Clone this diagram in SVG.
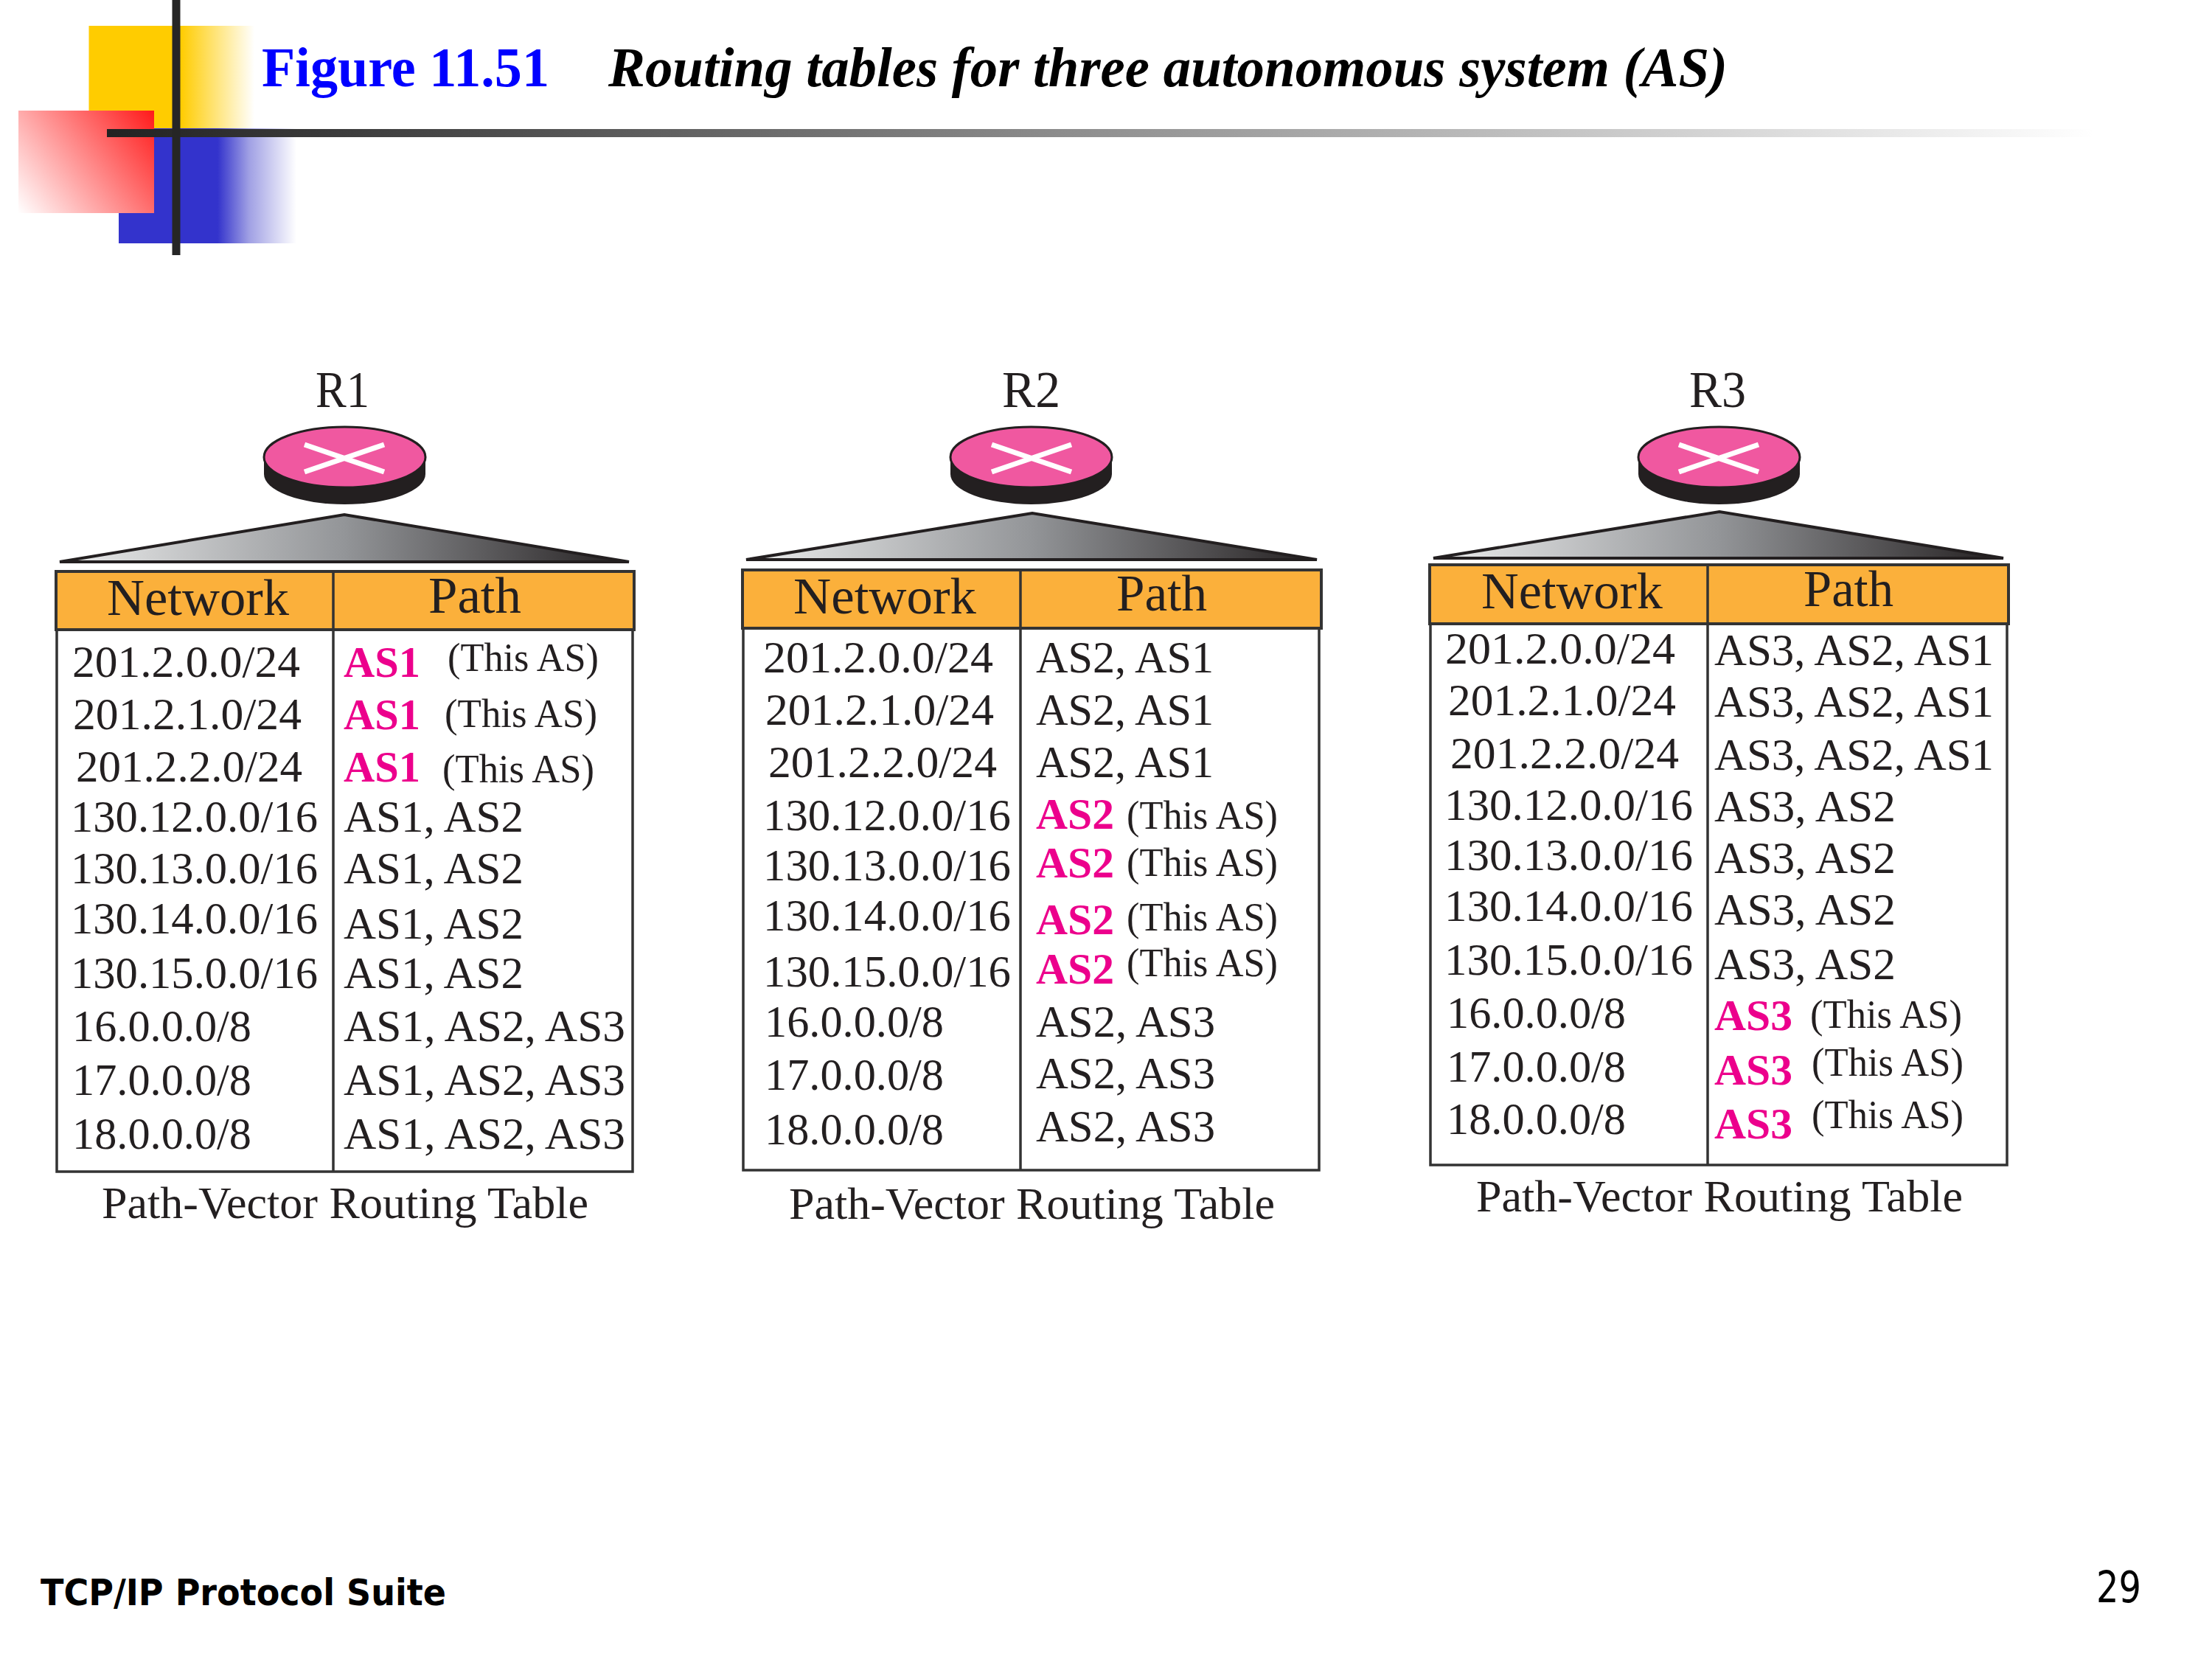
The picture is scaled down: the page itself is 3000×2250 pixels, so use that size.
<svg xmlns="http://www.w3.org/2000/svg" width="3000" height="2250" viewBox="0 0 3000 2250">
<style>
text{font-family:"Liberation Serif","Times New Roman",serif;fill:#231f20}
.t{font-size:62px}
.l{font-size:70px}
.h{font-size:70px}
.b{font-size:60px;font-weight:bold;fill:#ec008c}
.n{font-size:54px}
.hd{fill:#fbb03b;stroke:#333;stroke-width:4}
.bd{fill:#fff;stroke:#333;stroke-width:3.5}
.dv{stroke:#333;stroke-width:3.5;fill:none}
.top{fill:#f058a0;stroke:#231f20;stroke-width:3}
.side{fill:#231f20}
.x{stroke:#fff;stroke-width:7;fill:none}
.tri{fill:url(#gt);stroke:#231f20;stroke-width:4;stroke-linejoin:miter}
</style>
<defs>
<linearGradient id="gy" gradientUnits="userSpaceOnUse" x1="245" y1="0" x2="345" y2="0"><stop offset="0" stop-color="#ffcc00"/><stop offset="1" stop-color="#fff"/></linearGradient>
<linearGradient id="gb" gradientUnits="userSpaceOnUse" x1="295" y1="0" x2="402" y2="0"><stop offset="0" stop-color="#3333cc"/><stop offset="0.4" stop-color="#a0a0e4"/><stop offset="1" stop-color="#fff"/></linearGradient>
<linearGradient id="gr" gradientUnits="userSpaceOnUse" x1="209" y1="150" x2="25" y2="289"><stop offset="0" stop-color="#ff1a1a"/><stop offset="1" stop-color="#fff"/></linearGradient>
<linearGradient id="gl" gradientUnits="userSpaceOnUse" x1="145" y1="0" x2="2840" y2="0"><stop offset="0" stop-color="#222"/><stop offset="1" stop-color="#fff"/></linearGradient>
<linearGradient id="gt" x1="0" y1="0" x2="1" y2="0"><stop offset="0" stop-color="#eceded"/><stop offset="0.5" stop-color="#939598"/><stop offset="1" stop-color="#231f20"/></linearGradient>
</defs>
<rect width="3000" height="2250" fill="#fff"/>
<g id="decor">
<rect x="120.500" y="35" width="225" height="140" fill="url(#gy)"/>
<rect x="161" y="174" width="241" height="156" fill="url(#gb)"/>
<rect x="25" y="150" width="184" height="139" fill="url(#gr)"/>
<rect x="145" y="175" width="2695" height="11" fill="url(#gl)"/>
<rect x="233.500" y="0" width="11" height="346" fill="#262626"/>
</g>
<g id="title">
<text x="355" y="117" font-size="76" font-weight="bold" style="fill:#0000ff" textLength="390" lengthAdjust="spacingAndGlyphs">Figure 11.51</text>
<text x="825" y="117" font-size="76" font-weight="bold" font-style="italic" style="fill:#000" textLength="1518" lengthAdjust="spacingAndGlyphs">Routing tables for three autonomous system (AS)</text>
</g>
<g id="connectors">
<path class="tri" d="M81 762 L467 698 L853 762 Z"/>
<path class="tri" d="M1012 759 L1400 696 L1786 759 Z"/>
<path class="tri" d="M1944 757 L2332 694 L2717 757 Z"/>
</g>
<g id="R1">
<text class="l" x="428" y="552" textLength="73" lengthAdjust="spacingAndGlyphs">R1</text>
<path class="side" d="M358 620 V643 A109.500 41 0 0 0 577 643 V620 Z"/>
<ellipse class="top" cx="467.500" cy="620" rx="109.500" ry="41"/>
<path class="x" d="M413 603 L521 640 M413 640 L521 603"/>
</g>
<g id="table1">
<rect class="bd" x="77" y="854" width="781" height="735"/>
<rect class="hd" x="76" y="775" width="784" height="79"/>
<path class="dv" d="M452 775 V1589"/>
<text class="h" x="145" y="834" textLength="247" lengthAdjust="spacingAndGlyphs">Network</text>
<text class="h" x="581" y="831" textLength="126" lengthAdjust="spacingAndGlyphs">Path</text>
<text class="t" x="98" y="918" textLength="309" lengthAdjust="spacingAndGlyphs">201.2.0.0/24</text>
<text class="t" x="99" y="989" textLength="310" lengthAdjust="spacingAndGlyphs">201.2.1.0/24</text>
<text class="t" x="103" y="1060" textLength="307" lengthAdjust="spacingAndGlyphs">201.2.2.0/24</text>
<text class="t" x="96" y="1128" textLength="335" lengthAdjust="spacingAndGlyphs">130.12.0.0/16</text>
<text class="t" x="96" y="1198" textLength="335" lengthAdjust="spacingAndGlyphs">130.13.0.0/16</text>
<text class="t" x="96" y="1266" textLength="335" lengthAdjust="spacingAndGlyphs">130.14.0.0/16</text>
<text class="t" x="96" y="1340" textLength="335" lengthAdjust="spacingAndGlyphs">130.15.0.0/16</text>
<text class="t" x="98" y="1412" textLength="243" lengthAdjust="spacingAndGlyphs">16.0.0.0/8</text>
<text class="t" x="98" y="1485" textLength="243" lengthAdjust="spacingAndGlyphs">17.0.0.0/8</text>
<text class="t" x="98" y="1558" textLength="243" lengthAdjust="spacingAndGlyphs">18.0.0.0/8</text>
<text class="b" x="466" y="918" textLength="104" lengthAdjust="spacingAndGlyphs">AS1</text>
<text class="b" x="466" y="989" textLength="104" lengthAdjust="spacingAndGlyphs">AS1</text>
<text class="b" x="466" y="1060" textLength="104" lengthAdjust="spacingAndGlyphs">AS1</text>
<text class="n" x="607" y="910" textLength="205" lengthAdjust="spacingAndGlyphs">(This AS)</text>
<text class="n" x="603" y="986" textLength="207" lengthAdjust="spacingAndGlyphs">(This AS)</text>
<text class="n" x="600" y="1061" textLength="206" lengthAdjust="spacingAndGlyphs">(This AS)</text>
<text class="t" x="466" y="1128" textLength="244" lengthAdjust="spacingAndGlyphs">AS1, AS2</text>
<text class="t" x="466" y="1198" textLength="244" lengthAdjust="spacingAndGlyphs">AS1, AS2</text>
<text class="t" x="466" y="1273" textLength="244" lengthAdjust="spacingAndGlyphs">AS1, AS2</text>
<text class="t" x="466" y="1340" textLength="244" lengthAdjust="spacingAndGlyphs">AS1, AS2</text>
<text class="t" x="466" y="1412" textLength="382" lengthAdjust="spacingAndGlyphs">AS1, AS2, AS3</text>
<text class="t" x="466" y="1485" textLength="382" lengthAdjust="spacingAndGlyphs">AS1, AS2, AS3</text>
<text class="t" x="466" y="1558" textLength="382" lengthAdjust="spacingAndGlyphs">AS1, AS2, AS3</text>
<text class="t" x="138" y="1652" textLength="660" lengthAdjust="spacingAndGlyphs">Path-Vector Routing Table</text>
</g>
<g id="R2">
<text class="l" x="1359" y="552" textLength="79" lengthAdjust="spacingAndGlyphs">R2</text>
<path class="side" d="M1289 620 V643 A109.500 41 0 0 0 1508 643 V620 Z"/>
<ellipse class="top" cx="1398.500" cy="620" rx="109.500" ry="41"/>
<path class="x" d="M1345 603 L1453 640 M1345 640 L1453 603"/>
</g>
<g id="table2">
<rect class="bd" x="1008" y="852" width="781" height="735"/>
<rect class="hd" x="1007" y="773" width="785" height="79"/>
<path class="dv" d="M1384 773 V1587"/>
<text class="h" x="1076" y="832" textLength="248" lengthAdjust="spacingAndGlyphs">Network</text>
<text class="h" x="1514" y="828" textLength="123" lengthAdjust="spacingAndGlyphs">Path</text>
<text class="t" x="1035" y="912" textLength="312" lengthAdjust="spacingAndGlyphs">201.2.0.0/24</text>
<text class="t" x="1038" y="983" textLength="310" lengthAdjust="spacingAndGlyphs">201.2.1.0/24</text>
<text class="t" x="1042" y="1054" textLength="310" lengthAdjust="spacingAndGlyphs">201.2.2.0/24</text>
<text class="t" x="1035" y="1126" textLength="336" lengthAdjust="spacingAndGlyphs">130.12.0.0/16</text>
<text class="t" x="1035" y="1194" textLength="336" lengthAdjust="spacingAndGlyphs">130.13.0.0/16</text>
<text class="t" x="1035" y="1262" textLength="336" lengthAdjust="spacingAndGlyphs">130.14.0.0/16</text>
<text class="t" x="1035" y="1338" textLength="336" lengthAdjust="spacingAndGlyphs">130.15.0.0/16</text>
<text class="t" x="1037" y="1406" textLength="243" lengthAdjust="spacingAndGlyphs">16.0.0.0/8</text>
<text class="t" x="1037" y="1478" textLength="243" lengthAdjust="spacingAndGlyphs">17.0.0.0/8</text>
<text class="t" x="1037" y="1552" textLength="243" lengthAdjust="spacingAndGlyphs">18.0.0.0/8</text>
<text class="t" x="1405" y="912" textLength="241" lengthAdjust="spacingAndGlyphs">AS2, AS1</text>
<text class="t" x="1405" y="983" textLength="241" lengthAdjust="spacingAndGlyphs">AS2, AS1</text>
<text class="t" x="1405" y="1054" textLength="241" lengthAdjust="spacingAndGlyphs">AS2, AS1</text>
<text class="b" x="1405" y="1124" textLength="106" lengthAdjust="spacingAndGlyphs">AS2</text>
<text class="b" x="1405" y="1190" textLength="106" lengthAdjust="spacingAndGlyphs">AS2</text>
<text class="b" x="1405" y="1267" textLength="106" lengthAdjust="spacingAndGlyphs">AS2</text>
<text class="b" x="1405" y="1334" textLength="106" lengthAdjust="spacingAndGlyphs">AS2</text>
<text class="n" x="1528" y="1124" textLength="205" lengthAdjust="spacingAndGlyphs">(This AS)</text>
<text class="n" x="1528" y="1188" textLength="205" lengthAdjust="spacingAndGlyphs">(This AS)</text>
<text class="n" x="1528" y="1262" textLength="205" lengthAdjust="spacingAndGlyphs">(This AS)</text>
<text class="n" x="1528" y="1324" textLength="205" lengthAdjust="spacingAndGlyphs">(This AS)</text>
<text class="t" x="1405" y="1406" textLength="243" lengthAdjust="spacingAndGlyphs">AS2, AS3</text>
<text class="t" x="1405" y="1476" textLength="243" lengthAdjust="spacingAndGlyphs">AS2, AS3</text>
<text class="t" x="1405" y="1548" textLength="243" lengthAdjust="spacingAndGlyphs">AS2, AS3</text>
<text class="t" x="1070" y="1653" textLength="659" lengthAdjust="spacingAndGlyphs">Path-Vector Routing Table</text>
</g>
<g id="R3">
<text class="l" x="2291" y="552" textLength="77" lengthAdjust="spacingAndGlyphs">R3</text>
<path class="side" d="M2222 620 V643 A109.500 41 0 0 0 2441 643 V620 Z"/>
<ellipse class="top" cx="2331.500" cy="620" rx="109.500" ry="41"/>
<path class="x" d="M2277 603 L2385 640 M2277 640 L2385 603"/>
</g>
<g id="table3">
<rect class="bd" x="1940" y="846" width="782" height="734"/>
<rect class="hd" x="1939" y="766" width="785" height="80"/>
<path class="dv" d="M2316 766 V1580"/>
<text class="h" x="2009" y="825" textLength="246" lengthAdjust="spacingAndGlyphs">Network</text>
<text class="h" x="2446" y="822" textLength="122" lengthAdjust="spacingAndGlyphs">Path</text>
<text class="t" x="1960" y="900" textLength="312" lengthAdjust="spacingAndGlyphs">201.2.0.0/24</text>
<text class="t" x="1964" y="970" textLength="309" lengthAdjust="spacingAndGlyphs">201.2.1.0/24</text>
<text class="t" x="1967" y="1042" textLength="310" lengthAdjust="spacingAndGlyphs">201.2.2.0/24</text>
<text class="t" x="1959" y="1112" textLength="337" lengthAdjust="spacingAndGlyphs">130.12.0.0/16</text>
<text class="t" x="1959" y="1180" textLength="337" lengthAdjust="spacingAndGlyphs">130.13.0.0/16</text>
<text class="t" x="1959" y="1249" textLength="337" lengthAdjust="spacingAndGlyphs">130.14.0.0/16</text>
<text class="t" x="1959" y="1322" textLength="337" lengthAdjust="spacingAndGlyphs">130.15.0.0/16</text>
<text class="t" x="1962" y="1394" textLength="243" lengthAdjust="spacingAndGlyphs">16.0.0.0/8</text>
<text class="t" x="1962" y="1467" textLength="243" lengthAdjust="spacingAndGlyphs">17.0.0.0/8</text>
<text class="t" x="1962" y="1538" textLength="243" lengthAdjust="spacingAndGlyphs">18.0.0.0/8</text>
<text class="t" x="2325" y="902" textLength="379" lengthAdjust="spacingAndGlyphs">AS3, AS2, AS1</text>
<text class="t" x="2325" y="972" textLength="379" lengthAdjust="spacingAndGlyphs">AS3, AS2, AS1</text>
<text class="t" x="2325" y="1044" textLength="379" lengthAdjust="spacingAndGlyphs">AS3, AS2, AS1</text>
<text class="t" x="2325" y="1114" textLength="246" lengthAdjust="spacingAndGlyphs">AS3, AS2</text>
<text class="t" x="2325" y="1184" textLength="246" lengthAdjust="spacingAndGlyphs">AS3, AS2</text>
<text class="t" x="2325" y="1254" textLength="246" lengthAdjust="spacingAndGlyphs">AS3, AS2</text>
<text class="t" x="2325" y="1328" textLength="246" lengthAdjust="spacingAndGlyphs">AS3, AS2</text>
<text class="b" x="2325" y="1397" textLength="106" lengthAdjust="spacingAndGlyphs">AS3</text>
<text class="b" x="2325" y="1471" textLength="106" lengthAdjust="spacingAndGlyphs">AS3</text>
<text class="b" x="2325" y="1544" textLength="106" lengthAdjust="spacingAndGlyphs">AS3</text>
<text class="n" x="2455" y="1394" textLength="206" lengthAdjust="spacingAndGlyphs">(This AS)</text>
<text class="n" x="2457" y="1459" textLength="206" lengthAdjust="spacingAndGlyphs">(This AS)</text>
<text class="n" x="2457" y="1530" textLength="206" lengthAdjust="spacingAndGlyphs">(This AS)</text>
<text class="t" x="2002" y="1643" textLength="660" lengthAdjust="spacingAndGlyphs">Path-Vector Routing Table</text>
</g>
<g id="footer">
<text x="55" y="2177" font-size="50" font-weight="bold" style="font-family:'DejaVu Sans',sans-serif;fill:#000" textLength="550" lengthAdjust="spacingAndGlyphs">TCP/IP Protocol Suite</text>
<text x="2843" y="2173" font-size="58" style="font-family:'DejaVu Sans',sans-serif;fill:#000" textLength="61" lengthAdjust="spacingAndGlyphs">29</text>
</g>
</svg>
